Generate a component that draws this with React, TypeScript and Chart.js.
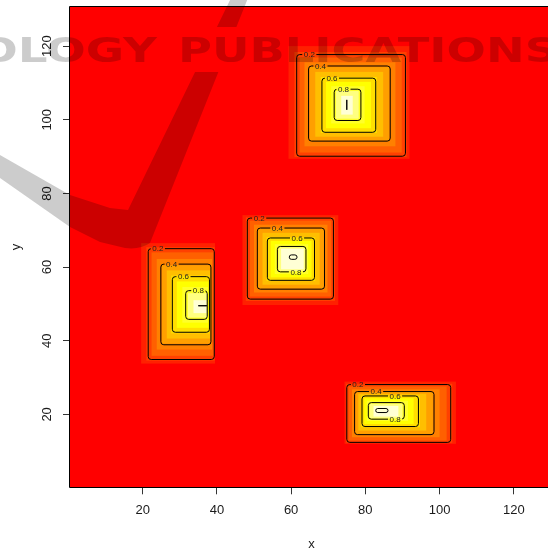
import React, { useEffect, useRef } from "react";
import { Chart, registerables } from "chart.js";

Chart.register(...registerables);

// ---------- data ----------
const xTickValues = [20, 40, 60, 80, 100, 120];
const yTickValues = [20, 40, 60, 80, 100, 120];
const xLimits = [0.43, 130.5];
const yLimits = [0.2, 130.7];

// R heat.colors(12): index 0 = background level
const heatColors = [
  "#FF0000", "#FF2000", "#FF4000", "#FF6000", "#FF8000", "#FF9F00",
  "#FFBF00", "#FFDF00", "#FFFF00", "#FFFF2A", "#FFFF80", "#FFFFD5",
];

const contourLevelLabels = ["0.2", "0.4", "0.6", "0.8", ""];

// colour band rectangles [x0, x1, y0, y1] for levels 1..11
const bandsTop = [
  [59.3, 91.9, 89.4, 120.0],
  [60.9, 91.1, 89.9, 118.4],
  [62.3, 89.8, 91.1, 116.9],
  [63.6, 88.1, 92.8, 115.6],
  [65.0, 86.4, 94.4, 114.3],
  [66.5, 84.8, 95.4, 113.0],
  [68.0, 83.1, 96.4, 111.6],
  [69.4, 81.5, 97.7, 110.3],
  [70.8, 79.8, 99.0, 109.1],
  [72.1, 78.2, 100.3, 107.8],
  [73.5, 76.6, 101.4, 106.5],
];
const bandsLeft = [
  [19.6, 39.5, 33.8, 66.5],
  [21.0, 39.4, 34.6, 65.4],
  [22.4, 39.1, 35.9, 64.0],
  [23.8, 38.7, 37.6, 62.2],
  [25.2, 38.4, 39.2, 60.5],
  [26.5, 38.2, 40.6, 59.1],
  [27.7, 38.0, 42.0, 57.7],
  [29.2, 37.8, 43.5, 56.1],
  [30.7, 37.6, 44.9, 54.6],
  [32.2, 37.4, 46.3, 52.9],
  [33.7, 37.2, 47.5, 51.0],
];
const bandsMiddle = [
  [46.9, 72.7, 49.7, 74.1],
  [47.8, 71.8, 50.8, 73.5],
  [48.9, 70.8, 52.0, 72.6],
  [50.0, 69.8, 53.1, 71.5],
  [51.1, 68.8, 54.2, 70.4],
  [52.3, 67.7, 55.2, 69.3],
  [53.4, 66.5, 56.2, 68.1],
  [54.5, 65.5, 57.2, 67.1],
  [55.6, 64.6, 58.1, 66.2],
  [56.6, 63.8, 58.9, 65.4],
  [57.3, 63.4, 59.4, 65.0],
];
const bandsBottom = [
  [74.4, 104.4, 12.0, 28.9],
  [74.8, 103.4, 12.3, 28.3],
  [75.5, 101.9, 12.9, 27.6],
  [76.4, 100.0, 13.8, 26.8],
  [77.3, 98.2, 14.7, 26.1],
  [78.1, 96.4, 15.6, 25.6],
  [78.9, 94.7, 16.5, 25.1],
  [79.7, 93.0, 17.4, 24.4],
  [80.4, 91.5, 18.2, 23.7],
  [81.2, 90.0, 18.9, 22.9],
  [82.2, 88.9, 19.4, 22.3],
];

// contour rectangles [x0, x1, y0, y1] for levels 0.2, 0.4, 0.6, 0.8, 1.0
const contoursTop = [
  [61.5, 90.8, 90.1, 117.7],
  [64.7, 86.7, 94.2, 114.6],
  [68.3, 82.8, 96.6, 111.3],
  [71.6, 78.8, 99.8, 108.3],
  [75.0, 75.0, 102.7, 105.4],
];
const contoursLeft = [
  [21.5, 39.3, 34.9, 65.0],
  [24.9, 38.4, 38.9, 60.8],
  [28.0, 38.0, 42.3, 57.4],
  [31.6, 37.4, 45.8, 53.6],
  [35.0, 37.3, 49.5, 49.5],
];
const contoursMiddle = [
  [48.2, 71.4, 51.3, 73.3],
  [50.9, 69.0, 54.0, 70.6],
  [53.6, 66.3, 56.4, 67.9],
  [56.3, 64.0, 58.7, 65.6],
  [59.5, 61.6, 62.1, 63.3],
];
const contoursBottom = [
  [75.0, 103.0, 12.4, 28.1],
  [77.1, 98.5, 14.5, 26.2],
  [79.1, 94.3, 16.7, 25.0],
  [80.8, 90.5, 18.7, 23.2],
  [82.8, 86.1, 20.5, 21.6],
];

// contour label anchors [x, y] for 0.2, 0.4, 0.6, 0.8
const labelsTop = [[64.9, 117.7], [67.9, 114.6], [71.0, 111.3], [74.1, 108.3]];
const labelsLeft = [[24.1, 65.0], [27.8, 60.8], [31.0, 57.4], [35.0, 53.6]];
const labelsMiddle = [[51.4, 73.3], [56.3, 70.6], [61.6, 67.9], [61.3, 58.7]];
const labelsBottom = [[78.0, 28.1], [82.9, 26.2], [88.0, 25.0], [88.0, 18.7]];

const blobs = [
  { bands: bandsTop, contours: contoursTop, labels: labelsTop },
  { bands: bandsLeft, contours: contoursLeft, labels: labelsLeft },
  { bands: bandsMiddle, contours: contoursMiddle, labels: labelsMiddle },
  { bands: bandsBottom, contours: contoursBottom, labels: labelsBottom },
];

const FONT = '"Liberation Sans", Arial, Helvetica, sans-serif';

function roundRectPath(ctx: CanvasRenderingContext2D, x: number, y: number, w: number, h: number, r: number) {
  const rr = Math.max(0, Math.min(r, w / 2, h / 2));
  ctx.moveTo(x + rr, y);
  ctx.lineTo(x + w - rr, y);
  if (rr > 0) ctx.arcTo(x + w, y, x + w, y + rr, rr);
  ctx.lineTo(x + w, y + h - rr);
  if (rr > 0) ctx.arcTo(x + w, y + h, x + w - rr, y + h, rr);
  ctx.lineTo(x + rr, y + h);
  if (rr > 0) ctx.arcTo(x, y + h, x, y + h - rr, rr);
  ctx.lineTo(x, y + rr);
  if (rr > 0) ctx.arcTo(x, y, x + rr, y, rr);
  ctx.closePath();
}

const heatPlugin = {
  id: "heatImage",
  beforeDatasetsDraw(chart: any) {
    const { ctx, chartArea: a, scales } = chart;
    const xs = scales.x;
    const ys = scales.y;
    ctx.save();
    ctx.beginPath();
    ctx.rect(a.left, a.top, a.right - a.left, a.bottom - a.top);
    ctx.clip();
    ctx.fillStyle = heatColors[0];
    ctx.fillRect(a.left, a.top, a.right - a.left, a.bottom - a.top);
    for (const b of blobs) {
      b.bands.forEach((r, i) => {
        const x0 = xs.getPixelForValue(r[0]);
        const x1 = xs.getPixelForValue(r[1]);
        const y0 = ys.getPixelForValue(r[3]);
        const y1 = ys.getPixelForValue(r[2]);
        ctx.fillStyle = heatColors[i + 1];
        ctx.fillRect(x0, y0, x1 - x0, y1 - y0);
      });
    }
    // contours
    ctx.font = `8px ${FONT}`;
    ctx.textAlign = "center";
    ctx.textBaseline = "middle";
    for (const b of blobs) {
      b.contours.forEach((r, i) => {
        const x0 = xs.getPixelForValue(r[0]);
        const x1 = xs.getPixelForValue(r[1]);
        const y0 = ys.getPixelForValue(r[3]);
        const y1 = ys.getPixelForValue(r[2]);
        const label = contourLevelLabels[i];
        const anchor = b.labels[i];
        ctx.save();
        if (label && anchor) {
          const lx = xs.getPixelForValue(anchor[0]);
          const ly = ys.getPixelForValue(anchor[1]);
          const w = ctx.measureText(label).width;
          ctx.beginPath();
          ctx.rect(a.left, a.top, a.right - a.left, a.bottom - a.top);
          ctx.rect(lx - w / 2 - 1.5, ly - 5, w + 3, 10);
          ctx.clip("evenodd");
        }
        ctx.beginPath();
        roundRectPath(ctx, x0, y0, x1 - x0, y1 - y0, 3);
        ctx.strokeStyle = "#000";
        ctx.lineWidth = 1;
        ctx.stroke();
        ctx.restore();
        if (label && anchor) {
          const lx = xs.getPixelForValue(anchor[0]);
          const ly = ys.getPixelForValue(anchor[1]);
          ctx.fillStyle = "#222";
          ctx.fillText(label, lx, ly + 0.5);
        }
      });
    }
    ctx.restore();
  },
  afterDraw(chart: any) {
    const { ctx, chartArea: a } = chart;
    // plot box
    ctx.save();
    ctx.strokeStyle = "#000";
    ctx.lineWidth = 1;
    ctx.beginPath();
    ctx.rect(Math.round(a.left) - 0.5, Math.round(a.top) - 0.5, a.right - a.left + 1, Math.round(a.bottom) - Math.round(a.top) + 1);
    ctx.stroke();
    ctx.restore();

    // publisher watermark overlay
    const W = chart.width;
    const H = chart.height;
    ctx.save();
    ctx.fillStyle = "rgba(0,0,0,0.2)";
    ctx.beginPath();
    ctx.rect(0, 0, W, 27);
    ctx.rect(0, 72, W, H - 72);
    ctx.clip();
    ctx.beginPath();
    ctx.moveTo(231, -2);
    ctx.lineTo(248, -2);
    ctx.lineTo(150, 243);
    ctx.quadraticCurveTo(140, 250, 125, 248);
    ctx.lineTo(100, 242);
    ctx.lineTo(70, 227);
    ctx.lineTo(0, 178);
    ctx.lineTo(0, 155);
    ctx.lineTo(70, 195);
    ctx.lineTo(110, 208);
    ctx.lineTo(128, 210);
    ctx.closePath();
    ctx.fill();
    ctx.restore();

    ctx.save();
    ctx.fillStyle = "rgba(0,0,0,0.2)";
    ctx.font = `bold 34px "DejaVu Sans", sans-serif`;
    ctx.textBaseline = "alphabetic";
    const w1 = ctx.measureText("PUBLICATIONS").width;
    const sx1 = 380 / w1;
    ctx.save();
    ctx.translate(178, 62);
    ctx.scale(sx1, 1);
    ctx.textAlign = "left";
    ctx.fillText("PUBLICATIONS", 0, 0);
    ctx.restore();
    const w2 = ctx.measureText("OLOGY").width;
    const sx2 = 179 / w2;
    ctx.translate(157, 62);
    ctx.scale(sx2, 1);
    ctx.textAlign = "right";
    ctx.fillText("OLOGY", 0, 0);
    ctx.restore();
  },
};

export default function App() {
  const canvasRef = useRef<HTMLCanvasElement | null>(null);

  useEffect(() => {
    document.body.style.margin = "0";
    document.body.style.overflow = "hidden";
    const canvas = canvasRef.current;
    if (!canvas) return;
    const chart = new Chart(canvas, {
      type: "scatter",
      data: { datasets: [] },
      options: {
        responsive: false,
        animation: false,
        devicePixelRatio: 1,
        layout: { padding: { top: 6.7, right: 7.2, left: 0, bottom: 0 } },
        plugins: { legend: { display: false }, tooltip: { enabled: false }, title: { display: false } },
        scales: {
          x: {
            type: "linear",
            min: xLimits[0],
            max: xLimits[1],
            afterBuildTicks: (s: any) => {
              s.ticks = xTickValues.map((v) => ({ value: v }));
            },
            afterFit: (s: any) => {
              s.height = 61.7;
              s.paddingLeft = 0;
              s.paddingRight = 0;
            },
            grid: { drawOnChartArea: false, drawTicks: true, tickLength: 7, color: "#333", lineWidth: 1 },
            border: { display: false },
            ticks: {
              color: "#1a1a1a",
              font: { family: FONT, size: 13 },
              padding: 8.5,
              maxRotation: 0,
              minRotation: 0,
              autoSkip: false,
              callback: (v: any) => String(v),
            },
            title: {
              display: true,
              text: "x",
              color: "#1a1a1a",
              font: { family: FONT, size: 13 },
              padding: { top: 0, bottom: -3 },
            },
          },
          y: {
            type: "linear",
            min: yLimits[0],
            max: yLimits[1],
            afterBuildTicks: (s: any) => {
              s.ticks = yTickValues.map((v) => ({ value: v }));
            },
            afterFit: (s: any) => {
              s.width = 70;
              s.paddingTop = 0;
              s.paddingBottom = 0;
            },
            grid: { drawOnChartArea: false, drawTicks: true, tickLength: 7, color: "#333", lineWidth: 1 },
            border: { display: false },
            ticks: {
              color: "#1a1a1a",
              font: { family: FONT, size: 13 },
              padding: 5,
              minRotation: 90,
              maxRotation: 90,
              crossAlign: "center",
              autoSkip: false,
              callback: (v: any) => String(v),
            },
            title: {
              display: true,
              text: "y",
              color: "#1a1a1a",
              font: { family: FONT, size: 13 },
              padding: { top: 9, bottom: 0 },
            },
          },
        },
      },
      plugins: [heatPlugin],
    } as any);
    return () => chart.destroy();
  }, []);

  return (
    <div style={{ position: "fixed", left: 0, top: 0, width: 548, height: 549, overflow: "hidden", background: "#fff" }}>
      <canvas ref={canvasRef} width={560} height={549} style={{ display: "block" }} />
    </div>
  );
}
